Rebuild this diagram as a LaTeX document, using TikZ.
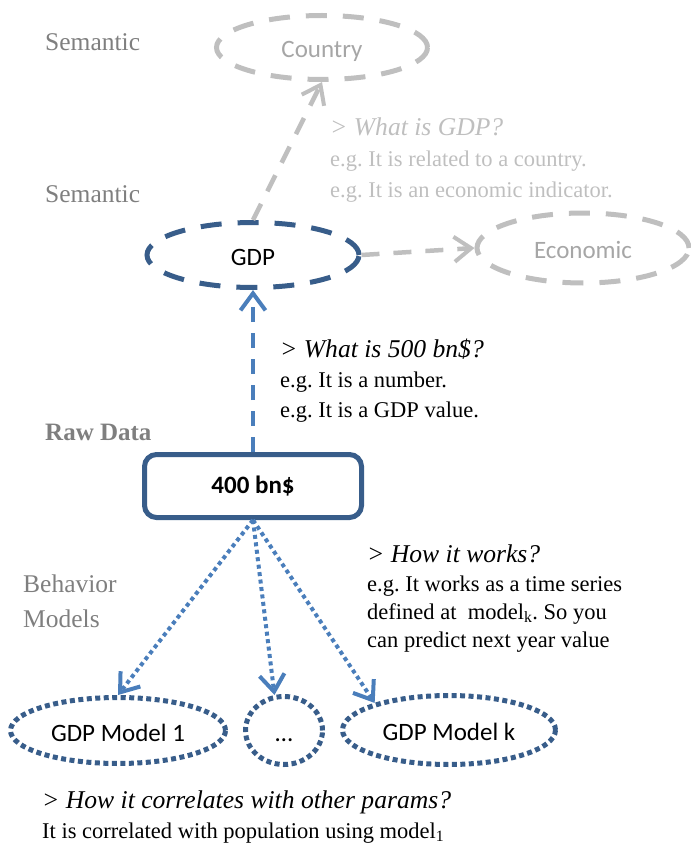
\documentclass[tikz,border=0pt]{standalone}
\usepackage{fontspec}
\setmainfont{Liberation Serif}
\newfontfamily\carlito{Carlito}
\usetikzlibrary{arrows.meta,shapes.geometric}

\definecolor{navy}{HTML}{385D8A}
\definecolor{linkblue}{HTML}{4A7EBB}
\definecolor{faint}{HTML}{BFBFBF}
\definecolor{fainttext}{HTML}{A6A6A6}
\definecolor{labelgray}{HTML}{7F7F7F}

\frenchspacing
\begin{document}
\begin{tikzpicture}[x=1pt,y=-1pt,
  nodefont/.style={font=\carlito\fontsize{25}{30}\selectfont},
  concept/.style={ellipse, inner sep=0pt, nodefont, line width=5pt,
    text height=21pt, text depth=0pt, dash pattern=on 21pt off 16pt},
  oldconcept/.style={concept, draw=faint, text=fainttext},
  curconcept/.style={concept, draw=navy, text=black},
  model/.style={ellipse, inner sep=0pt, nodefont, draw=navy, line width=5pt,
    text height=21pt, text depth=0pt, dash pattern=on 5pt off 3.5pt},
  rawbox/.style={rectangle, rounded corners=12pt, draw=navy, fill=white,
    line width=5pt, inner sep=0pt, font=\carlito\bfseries\fontsize{25}{30}\selectfont},
  txt/.style={anchor=base west, inner sep=0pt},
  levellabel/.style={txt, text=labelgray, font=\fontsize{25.5}{30}\selectfont},
  question/.style={txt, font=\itshape\fontsize{25.6}{30}\selectfont},
  answer/.style={txt, font=\fontsize{22.5}{27}\selectfont},
  barb/.style={-{Straight Barb[length=17pt,width=25pt,line width=4pt]}},
  faintlink/.style={barb, draw=faint, line width=4.5pt, dash pattern=on 18pt off 14pt},
  bluelink/.style={barb, draw=linkblue, line width=4pt, dash pattern=on 15pt off 11pt},
  dotlink/.style={barb, draw=linkblue, line width=4pt, dash pattern=on 4pt off 3.5pt},
]
\useasboundingbox (0,0) rectangle (690,845);

% level labels on the left
\node[levellabel] (sem1) at (45,51) {Semantic};
\node[levellabel] (sem2) at (45,202) {Semantic};
\node[levellabel, font=\bfseries\fontsize{25}{30}\selectfont] (raw) at (45,440) {Raw Data};
\node[levellabel] (beh) at (23,592) {Behavior};
\node[levellabel] (mod) at (23,627) {Models};

% semantic concepts
\node[oldconcept, minimum width=211pt, minimum height=64pt] (country) at (322,47.5) {Country};
\node[curconcept, minimum width=212pt, minimum height=65pt] (gdp) at (253,255) {GDP};
\node[oldconcept, minimum width=212pt, minimum height=70pt] (eco) at (583,248) {Economic};

% raw value
\node[rawbox, minimum width=217pt, minimum height=63pt] (box) at (253,486) {400 bn\$};

% behaviour models
\node[model, minimum width=215pt, minimum height=66pt] (m1) at (118,730.5) {GDP Model 1};
\node[model, minimum width=77pt, minimum height=68pt] (dots) at (284,730.5) {\dots};
\node[model, minimum width=213pt, minimum height=69pt] (mk) at (449,730) {GDP Model k};

% connectors
\draw[faintlink] (gdp.north) -- (country.south);
\draw[faintlink] (gdp.east) -- (eco.west);
\draw[bluelink] (box.north) -- (gdp.south);
\draw[dotlink] (box.south) -- (m1.north);
\draw[dotlink] (box.south) -- (dots.105);
\draw[dotlink] (box.south) -- (mk.160);

% questions and answers
\node[question, text=faint] (q1) at (330,136) {> What is GDP?};
\node[answer, text=faint] (a11) at (330,167) {e.g. It is related to a country.};
\node[answer, text=faint] (a12) at (330,197) {e.g. It is an economic indicator.};

\node[question] (q2) at (280,357) {> What is 500 bn\$?};
\node[answer] (a21) at (280,387) {e.g. It is a number.};
\node[answer] (a22) at (280,417) {e.g. It is a GDP value.};

\node[question] (q3) at (367,562) {> How it works?};
\node[answer] (a31) at (367,591) {e.g. It works as a time series};
\node[answer] (a32) at (367,619) {defined at\ \ model\textsubscript{k}. So you};
\node[answer] (a33) at (367,647) {can predict next year value};

\node[question] (q4) at (42,808) {> How it correlates with other params?};
\node[answer] (a41) at (42,838) {It is correlated with population using model\textsubscript{1}};
\end{tikzpicture}
\end{document}
